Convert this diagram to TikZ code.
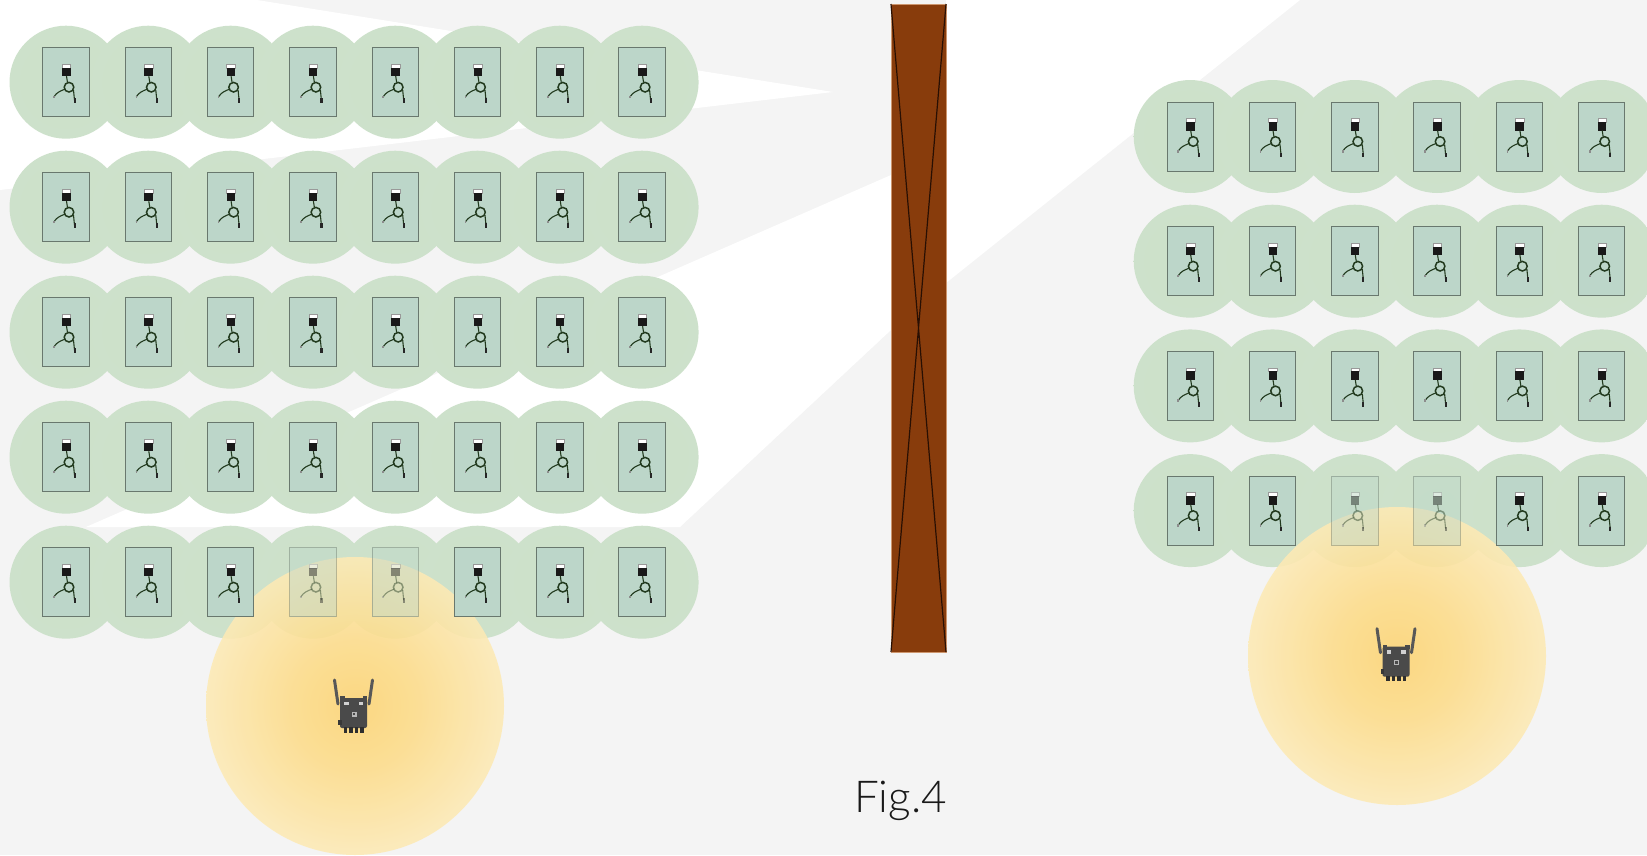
\documentclass[tikz,border=0pt]{standalone}
\usepackage{fontspec}
\setmainfont{Lato}
\newfontfamily\captionfont{Lato}[UprightFont={* Light}]
\definecolor{bggray}{RGB}{244,244,244}
\definecolor{tilefill}{RGB}{188,214,201}
\definecolor{tileedge}{RGB}{105,120,110}
\definecolor{cablegreen}{RGB}{34,58,30}
\definecolor{wallbrown}{RGB}{136,60,12}
\definecolor{wallline}{RGB}{40,15,3}
\definecolor{wallrim}{RGB}{205,150,110}
\definecolor{routerbody}{RGB}{74,74,74}
\definecolor{antenna}{RGB}{88,88,88}

% soft green coverage disc of one charger
\pgfdeclareradialshading{greenglow}{\pgfpoint{0bp}{0bp}}{%
  rgb(0bp)=(0.80,0.88,0.79); rgb(25bp)=(0.805,0.883,0.795);
  rgb(37bp)=(0.86,0.915,0.85); rgb(50bp)=(0.925,0.952,0.92)}
% warm coverage disc of the gateway
\pgfdeclareradialshading{yellowglow}{\pgfpoint{0bp}{0bp}}{%
  rgb(0bp)=(0.99,0.83,0.45); rgb(10bp)=(0.99,0.86,0.53);
  rgb(30bp)=(0.995,0.935,0.77); rgb(50bp)=(0.998,0.975,0.915)}

% one wall charger tile: centre x, centre y, opacity
\newcommand{\evtile}[3]{%
  \begin{scope}[shift={({#1},{#2})}, opacity=#3]
    \fill[tilefill, draw=tileedge, line width=0.9pt] (-23.2,-34.5) rectangle (23.2,34.5);
    \fill[white, draw=black!40, line width=0.3pt] (-4,-18) rectangle (4.5,-14.5);
    \fill[black!90] (-4,-14.5) rectangle (4.5,-6);
    \draw[cablegreen, line width=1.1pt] (0.5,-6) -- (1.5,0.3);
    \draw[cablegreen, line width=1.5pt] (3,5) circle (4.8);
    \draw[cablegreen, line width=1.1pt] (-1.2,7) .. controls (-6,9) and (-9,10) .. (-12,14.5);
    \draw[cablegreen, line width=1.1pt] (7.5,8) -- (8.5,18);
    \fill[black!85] (7.5,16) rectangle (9.6,20.8);
    \fill[black!45] (-12.8,13.5) rectangle (-11.2,16);
  \end{scope}}

% wireless gateway with two antennas: centre x, centre y of its body
\newcommand{\gateway}[2]{%
  \begin{scope}[shift={({#1},{#2})}]
    \draw[antenna, line width=3pt, line cap=round] (-15.5,-9) -- (-19,-33);
    \draw[antenna, line width=3pt, line cap=round] (15.5,-9) -- (19,-33);
    \fill[routerbody] (-13.5,-17) rectangle (-9,-13);
    \fill[routerbody] (9,-17) rectangle (13.5,-13);
    \fill[routerbody, rounded corners=2pt] (-13.5,-15) rectangle (13.5,15);
    \fill[black!18] (-9.5,-11.5) rectangle (-5,-8);
    \fill[black!18] (5,-11.5) rectangle (9.5,-8);
    \fill[black!28] (-2,-1.5) rectangle (3,3.5);
    \fill[routerbody] (-0.8,-0.3) rectangle (1.6,2.3);
    \fill[black!78] (-15.5,7) rectangle (-12,12);
    \foreach \fx in {-8,-2.5,3,8.5}
      \fill[black!82] (\fx-1.8,14) rectangle (\fx+1.8,19.5);
  \end{scope}}

\begin{document}
\begin{tikzpicture}[x=1pt,y=-1pt]
  \useasboundingbox (0,0) rectangle (1647,855);
  \clip (0,0) rectangle (1647,855);
  \fill[bggray] (0,0) rectangle (1647,855);

  % light beams on the floor
  \fill[white] (0,0) -- (257,0) -- (833,92) -- (0,190) -- cycle;
  \fill[white] (86,527) -- (891,175) -- (891,330) -- (680,527) -- cycle;
  \fill[white] (946,0) -- (1300,0) -- (946,283) -- cycle;

  % coverage discs of the chargers
  \foreach \i in {0,...,7}
    \foreach \j in {0,...,4}
      \shade[shading=greenglow] ({66+82.3*\i},{82.2+125*\j}) circle (56.5);
  \foreach \i in {0,...,5}
    \foreach \j in {0,...,3}
      \shade[shading=greenglow] ({1190.2+82.3*\i},{136.5+124.7*\j}) circle (56.5);

  % coverage discs of the gateways
  \shade[shading=yellowglow, fill opacity=0.88] (355,706) circle (149);
  \shade[shading=yellowglow, fill opacity=0.88] (1397,656) circle (149);

  % chargers, left room
  \foreach \i in {0,...,7}
    \foreach \j in {0,...,4}{
      \def\op{1}
      \ifnum\j=4 \ifnum\i>2 \ifnum\i<5 \def\op{0.45}\fi\fi\fi
      \evtile{66+82.3*\i}{82.2+125*\j}{\op}
    }
  % chargers, right room
  \foreach \i in {0,...,5}
    \foreach \j in {0,...,3}{
      \def\op{1}
      \ifnum\j=3 \ifnum\i>1 \ifnum\i<4 \def\op{0.45}\fi\fi\fi
      \evtile{1190.2+82.3*\i}{136.5+124.7*\j}{\op}
    }

  % wall between the rooms
  \fill[wallbrown, draw=wallrim, line width=0.6pt] (891,4) rectangle (946,652);
  \draw[wallline, line width=1.2pt] (891,4) -- (946,652) (946,4) -- (891,652);

  % gateways
  \gateway{353.5}{713}
  \gateway{1396}{661.7}

  \node[font=\captionfont\fontsize{44}{50}\selectfont, text=black!90, anchor=base, inner sep=0pt]
    (caption) at (900.5,812.7) {Fig.4};
\end{tikzpicture}
\end{document}
